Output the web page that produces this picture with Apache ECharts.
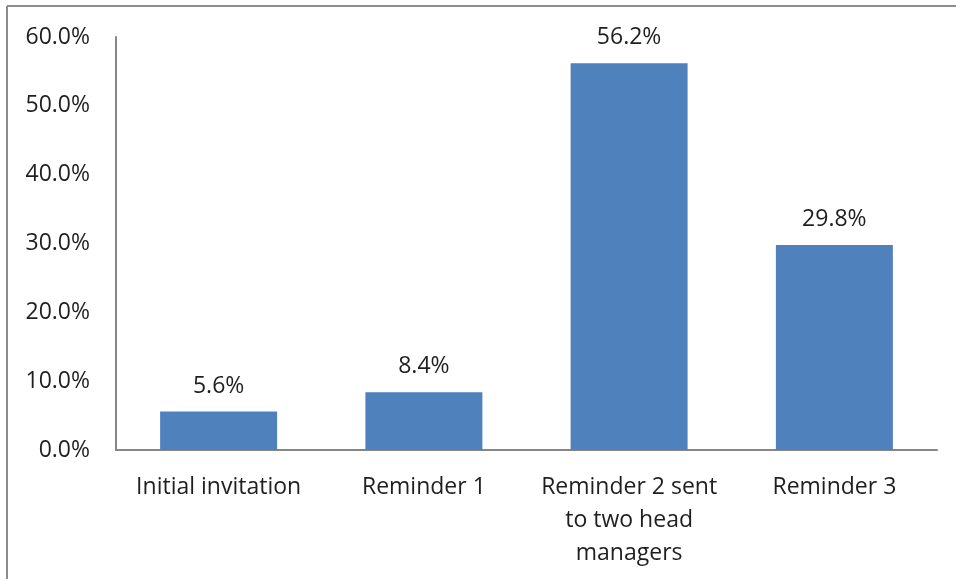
<!DOCTYPE html>
<html>
<head>
<meta charset="utf-8">
<script src="https://cdn.jsdelivr.net/npm/echarts@6/dist/echarts.min.js"></script>
<style>
  html, body { margin: 0; padding: 0; background: #fff; }
  #chart { width: 956px; height: 579px; }
</style>
</head>
<body>
<div id="chart"></div>
<script>
// Response rate by contact stage
const categories = ['Initial invitation', 'Reminder 1', 'Reminder 2 sent\nto two head\nmanagers', 'Reminder 3'];
const responseRates = [5.6, 8.4, 56.2, 29.8];
const yTicks = { min: 0, max: 60, interval: 10 };

const FONT = '"Open Sans", sans-serif';
const TEXT = '#1f1f1f';
const AXIS = '#868686';
const SIZE = 23;

const chart = echarts.init(document.getElementById('chart'), null, { renderer: 'canvas' });
chart.setOption({
  animation: false,
  backgroundColor: '#ffffff',
  grid: { left: 116, right: 19, top: 37, bottom: 129 },
  xAxis: {
    type: 'category',
    data: categories,
    axisLine: { lineStyle: { color: AXIS, width: 2 } },
    axisTick: { show: false },
    axisLabel: {
      color: TEXT, fontFamily: FONT, fontSize: SIZE, lineHeight: 33,
      margin: 21, interval: 0
    }
  },
  yAxis: {
    type: 'value',
    min: yTicks.min, max: yTicks.max, interval: yTicks.interval,
    axisLine: { show: true, lineStyle: { color: AXIS, width: 2 } },
    axisTick: { show: false },
    splitLine: { show: false },
    axisLabel: {
      color: TEXT, fontFamily: FONT, fontSize: SIZE, margin: 26,
      formatter: v => v.toFixed(1) + '%'
    }
  },
  series: [{
    type: 'bar',
    data: responseRates,
    barWidth: '57%',
    itemStyle: { color: '#4F81BD' },
    label: {
      show: true, position: 'top', distance: 14,
      color: TEXT, fontFamily: FONT, fontSize: SIZE,
      formatter: p => p.value.toFixed(1) + '%'
    }
  }],
  graphic: [
    { type: 'line', shape: { x1: 7, y1: 6, x2: 956, y2: 6 }, style: { stroke: '#8c8c8c', lineWidth: 2 } },
    { type: 'line', shape: { x1: 7, y1: 6, x2: 7, y2: 579 }, style: { stroke: '#8c8c8c', lineWidth: 2 } }
  ]
});
</script>
</body>
</html>
